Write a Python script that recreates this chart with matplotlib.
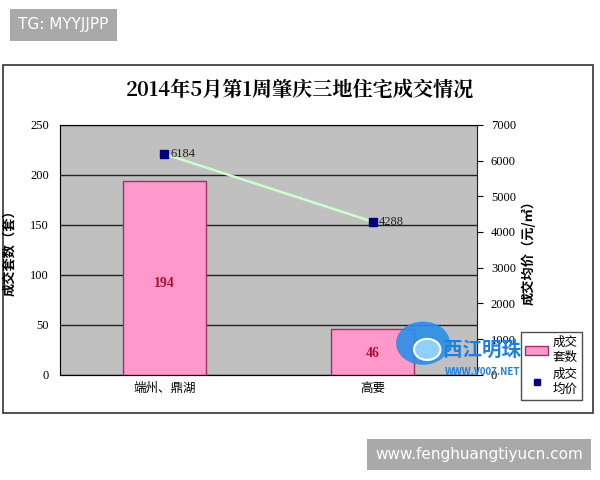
import matplotlib
matplotlib.use("Agg")
import matplotlib.pyplot as plt
from matplotlib.patches import Rectangle, Circle
from matplotlib.lines import Line2D

plt.rcParams['font.family'] = ['Noto Sans CJK SC', 'DejaVu Sans']

categories = ["端州、鼎湖", "高要"]
units_sold = [194, 46]
avg_price = [6184, 4288]
left_ticks = [0, 50, 100, 150, 200, 250]
right_ticks = [0, 1000, 2000, 3000, 4000, 5000, 6000, 7000]

fig = plt.figure(figsize=(6, 4.8), dpi=100)
fig.patch.set_facecolor('white')

# outer chart frame
fig.add_artist(Rectangle((0.005, 0.140), 0.983, 0.725, transform=fig.transFigure,
                         facecolor='white', edgecolor='#333333', lw=1.2, zorder=0))

ax = fig.add_axes([0.100, 0.219, 0.695, 0.521])
ax.set_facecolor('#c0c0c0')
x = list(range(len(categories)))
bars = ax.bar(x, units_sold, width=0.4, color='#ff99cc', edgecolor='#993366', lw=1, zorder=3)
ax.set_xlim(-0.5, 1.5)
ax.set_ylim(0, 250)
ax.set_yticks(left_ticks)
ax.set_yticklabels([str(t) for t in left_ticks], family='Liberation Serif', fontsize=9)
ax.yaxis.grid(True, color='#222222', lw=1, zorder=1)
ax.set_axisbelow(True)
ax.tick_params(axis='y', length=0, pad=8)
ax.set_xticks(x)
ax.set_xticklabels(categories, fontsize=9)
ax.tick_params(axis='x', length=0, pad=5)
for s in ['top', 'right', 'left']:
    ax.spines[s].set_color('#808080')
ax.spines['bottom'].set_color('#222222')
ax.set_ylabel("成交套数（套）", fontsize=9.5, labelpad=10, fontweight='bold')
for xi, v in zip(x, units_sold):
    ax.text(xi, v / 2 - 6 * (v / 194), str(v), ha='center', va='center', color='#aa1133',
            fontsize=10, fontweight='bold', family='Liberation Serif', zorder=5)

ax2 = ax.twinx()
ax2.set_ylim(0, 7000)
ax2.set_yticks(right_ticks)
ax2.set_yticklabels([str(t) for t in right_ticks], family='Liberation Serif', fontsize=9)
ax2.tick_params(axis='y', length=4, direction='out', pad=6)
ax2.spines['right'].set_color('#222222')
ax2.plot(x, avg_price, color='#ccffcc', lw=1.8, zorder=4)
ax2.plot(x, avg_price, ls='none', marker='s', ms=6, color='#000080', zorder=5)
for xi, v in zip(x, avg_price):
    ax2.text(xi + 0.03, v, str(v), ha='left', va='center', fontsize=9,
             family='Liberation Serif', color='#222222', zorder=6)
ax2.set_ylabel("成交均价（元/㎡）", fontsize=9.5, labelpad=4, fontweight='bold')

fig.text(0.5, 0.810, "2014年5月第1周肇庆三地住宅成交情况", ha='center', va='center',
         fontsize=14.5, fontweight='bold', family=['Noto Serif CJK SC', 'Noto Sans CJK SC'])

handles = [Rectangle((0, 0), 1, 1, facecolor='#ff99cc', edgecolor='#993366'),
           Line2D([], [], ls='none', marker='s', ms=5, color='#000080')]
leg = fig.legend(handles, ["成交\n套数", "成交\n均价"], loc='upper left',
                 bbox_to_anchor=(0.858, 0.322), fontsize=9, frameon=True,
                 fancybox=False, edgecolor='#222222', handlelength=1.8,
                 borderpad=0.35, labelspacing=0.3, handletextpad=0.4)
leg.get_frame().set_linewidth(1)

# watermark logo
fig.add_artist(Circle((0.705, 0.285), 0.045, transform=fig.transFigure,
                      facecolor='#2a8ee8', edgecolor='none', alpha=0.9, zorder=10))
fig.add_artist(Circle((0.712, 0.272), 0.022, transform=fig.transFigure,
                      facecolor='#8fd0ff', edgecolor='white', lw=1.5, zorder=11))
fig.text(0.738, 0.27, "西江明珠", fontsize=14, fontweight='bold', color='#1e7fe0',
         ha='left', va='center', zorder=12)
fig.text(0.742, 0.225, "WWW.V007.NET", fontsize=7, fontweight='bold', color='#1e7fe0',
         ha='left', va='center', zorder=12)

# overlay boxes
fig.text(0.030, 0.948, "TG: MYYJJPP", fontsize=11, color='white',
         ha='left', va='center',
         bbox=dict(boxstyle='square,pad=0.55', facecolor='#a9a9a9', edgecolor='none'),
         family='DejaVu Sans')
fig.text(0.625, 0.053, "www.fenghuangtiyucn.com", fontsize=11, color='white',
         ha='left', va='center',
         bbox=dict(boxstyle='square,pad=0.55', facecolor='#a9a9a9', edgecolor='none'),
         family='DejaVu Sans')

fig.savefig("out.png", dpi=100)
